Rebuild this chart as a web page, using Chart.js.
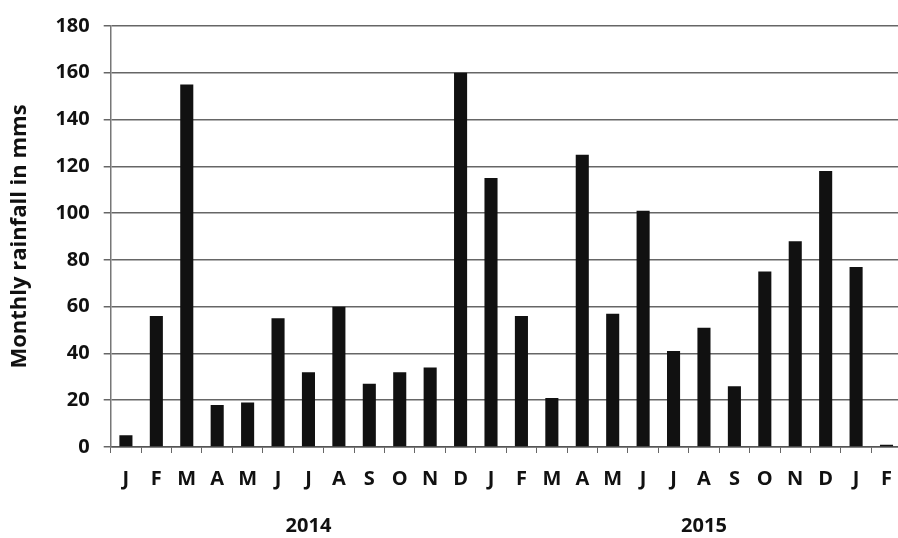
<!DOCTYPE html>
<html>
<head>
<meta charset="utf-8">
<script src="https://cdn.jsdelivr.net/npm/chart.js@4"></script>
<style>
  html, body { margin: 0; padding: 0; background: #fff; overflow: hidden; }
  #wrap { width: 906px; height: 538px; }
</style>
</head>
<body>
<div id="wrap"><canvas id="barChart" width="906" height="538"></canvas></div>
<script>
// month initials, Jan 2014 .. Feb 2016
var months = ["J", "F", "M", "A", "M", "J", "J", "A", "S", "O", "N", "D",
              "J", "F", "M", "A", "M", "J", "J", "A", "S", "O", "N", "D",
              "J", "F"];
// rainfall in mm
var rainfall = [5, 56, 155, 18, 19, 55, 32, 60, 27, 32, 34, 160,
                115, 56, 21, 125, 57, 101, 41, 51, 26, 75, 88, 118,
                77, 1];
// year labels and the month index they sit under
var years = ["2014", "2015"];
var yearAt = [6, 19];
var yTicks = [0, 20, 40, 60, 80, 100, 120, 140, 160, 180];

var font = "'Open Sans', 'Liberation Sans', sans-serif";

// draws the year row under the month letters
var yearLabels = {
  id: "yearLabels",
  afterDraw: function (chart) {
    var ctx = chart.ctx;
    var x = chart.scales.x;
    ctx.save();
    ctx.font = "bold 20px " + font;
    ctx.fillStyle = "#111";
    ctx.textAlign = "center";
    ctx.textBaseline = "middle";
    for (var i = 0; i < years.length; i++) {
      ctx.fillText(years[i], x.getPixelForValue(yearAt[i]), 526);
    }
    ctx.restore();
  }
};

var ctx = document.getElementById("barChart").getContext("2d");
new Chart(ctx, {
  type: "bar",
  data: {
    labels: months,
    datasets: [
      {
        label: "Rainfall",
        data: rainfall,
        backgroundColor: "#111",
        barPercentage: 0.43,
        categoryPercentage: 1.0,
      },
    ],
  },
  options: {
    responsive: false,
    animation: false,
    layout: { padding: { left: 7, right: 0, top: 2, bottom: 33 } },
    plugins: {
      legend: { display: false },
      tooltip: { enabled: false },
    },
    scales: {
      x: {
        offset: true,
        grid: {
          offset: true,
          drawOnChartArea: false,
          drawTicks: true,
          tickLength: 6,
          color: "#666",
        },
        border: { display: true, color: "#555", width: 1.5 },
        ticks: {
          color: "#111",
          padding: 14,
          maxRotation: 0,
          autoSkip: false,
          font: { family: font, size: 20, weight: "bold" },
        },
      },
      y: {
        min: 0,
        max: 180,
        afterBuildTicks: function (axis) {
          axis.ticks = yTicks.map(function (v) { return { value: v }; });
        },
        grid: { color: "#666", lineWidth: 1.5, tickLength: 7 },
        border: { display: true, color: "#777", width: 1.5 },
        ticks: {
          color: "#111",
          padding: 14,
          font: { family: font, size: 20, weight: "bold" },
        },
        title: {
          display: true,
          text: "Monthly rainfall in mms",
          color: "#111",
          padding: { top: 0, bottom: 8 },
          font: { family: font, size: 22, weight: "bold" },
        },
      },
    },
  },
  plugins: [yearLabels],
});
</script>
</body>
</html>
